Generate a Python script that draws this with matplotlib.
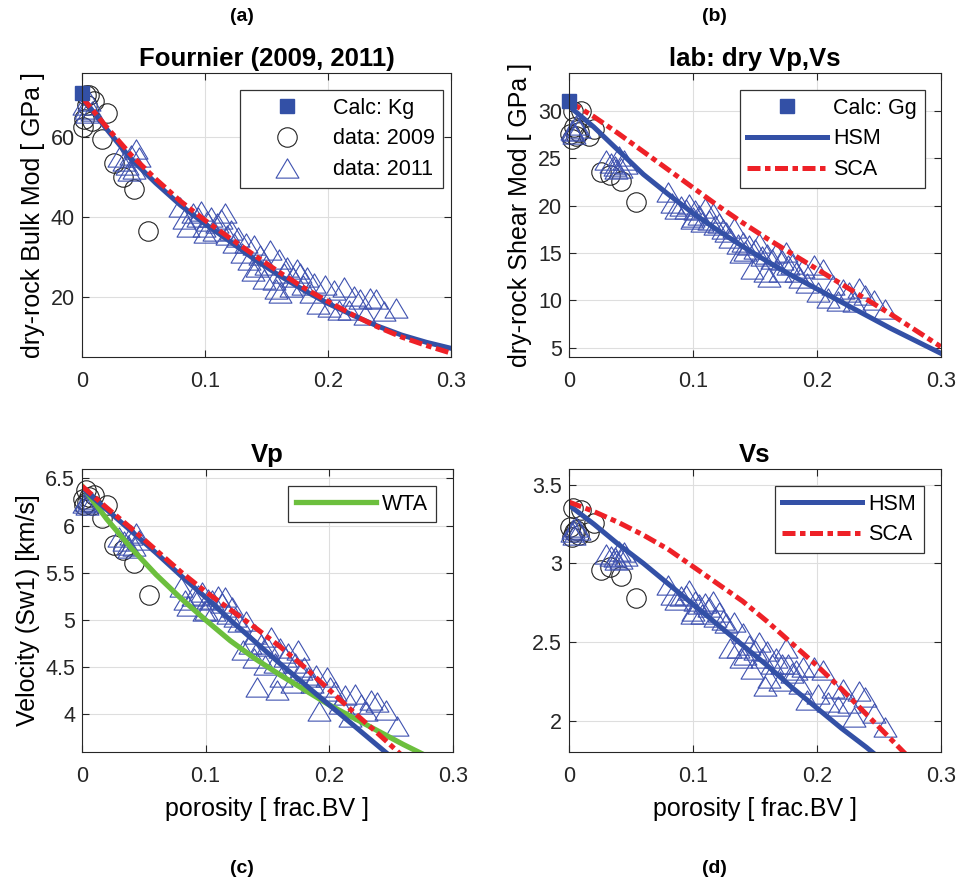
import numpy as np
import matplotlib.pyplot as plt
from matplotlib.path import Path

plt.rcParams['font.family'] = ['Liberation Sans', 'DejaVu Sans']

# ---- data: 2009 (circles) ----
phi_2009 = [0.001, 0.002, 0.003, 0.004, 0.006, 0.008, 0.010, 0.016, 0.020, 0.026, 0.033, 0.042, 0.054]
K_2009 = [62.5, 64.5, 70.5, 68.0, 70.5, 64.0, 69.0, 59.5, 66.0, 53.5, 50.0, 47.0, 36.5]
G_2009 = [27.6, 27.0, 30.0, 28.3, 27.4, 27.8, 30.0, 27.4, 28.1, 23.5, 23.2, 22.6, 20.4]
Vp_2009 = [6.28, 6.22, 6.38, 6.25, 6.30, 6.22, 6.33, 6.08, 6.22, 5.80, 5.74, 5.60, 5.27]
Vs_2009 = [3.23, 3.17, 3.35, 3.20, 3.21, 3.18, 3.34, 3.20, 3.26, 2.96, 2.98, 2.92, 2.78]

# ---- data: 2011 (triangles) ----
phi_2011 = [0.002, 0.004, 0.006, 0.003, 0.008,
            0.030, 0.034, 0.037, 0.040, 0.042, 0.044, 0.046, 0.038,
            0.080, 0.083, 0.086, 0.090, 0.094, 0.097, 0.100, 0.102, 0.105, 0.107,
            0.110, 0.113, 0.116, 0.118, 0.121, 0.124, 0.127, 0.099,
            0.130, 0.133, 0.136, 0.139, 0.142, 0.145, 0.148, 0.150, 0.153, 0.156,
            0.158, 0.161, 0.164, 0.167, 0.170, 0.172, 0.175, 0.177, 0.180, 0.183,
            0.186, 0.189, 0.140, 0.160,
            0.192, 0.198, 0.201, 0.205, 0.209, 0.213, 0.217, 0.221, 0.226, 0.230,
            0.234, 0.239, 0.246, 0.255]
K_2011 = [68.0, 66.0, 69.0, 67.0, 66.5,
          55.0, 54.0, 53.0, 55.5, 52.0, 57.0, 55.0, 51.5,
          42.5, 39.5, 37.5, 41.0, 40.0, 41.5, 36.0, 39.0, 40.0, 36.5,
          38.5, 39.5, 41.0, 35.5, 36.7, 33.5, 35.0, 37.5,
          31.0, 33.5, 29.2, 26.5, 27.4, 30.5, 24.5, 28.0, 31.7, 24.3,
          22.0, 20.9, 25.9, 27.6, 22.6, 25.0, 27.0, 25.9, 23.0, 25.1,
          20.9, 23.5, 33.0, 29.5,
          18.3, 23.0, 17.5, 21.8, 16.7, 22.5, 16.7, 20.3, 19.4, 15.5,
          19.8, 19.4, 16.5, 17.2]
G_2011 = [28.0, 27.6, 28.5, 27.9, 28.2,
          24.8, 24.5, 24.2, 25.2, 24.0, 24.8, 24.4, 23.9,
          21.4, 20.3, 19.6, 20.0, 19.6, 20.2, 18.8, 19.5, 19.0, 18.3,
          19.8, 18.5, 19.2, 18.0, 18.2, 17.5, 17.2, 18.6,
          16.6, 17.6, 15.9, 15.0, 15.2, 15.8, 13.3, 15.4, 16.0, 14.7,
          13.0, 12.5, 14.4, 15.0, 13.0, 14.3, 15.1, 13.7, 13.8, 13.0,
          12.3, 13.4, 16.2, 14.9,
          11.8, 13.7, 10.9, 13.3, 10.2, 11.6, 9.9, 11.2, 10.9, 9.8,
          11.3, 10.6, 10.0, 9.1]
Vp_2011 = [6.24, 6.22, 6.28, 6.26, 6.25,
           5.88, 5.84, 5.80, 5.90, 5.78, 5.92, 5.85, 5.76,
           5.35, 5.21, 5.15, 5.25, 5.26, 5.30, 5.11, 5.22, 5.21, 5.09,
           5.25, 5.18, 5.24, 5.06, 5.14, 5.03, 4.98, 5.10,
           4.68, 4.99, 4.75, 4.60, 4.29, 4.75, 4.52, 4.72, 4.82, 4.54,
           4.26, 4.40, 4.61, 4.65, 4.33, 4.54, 4.68, 4.47, 4.50, 4.40,
           4.33, 4.42, 4.85, 4.70,
           4.04, 4.40, 4.29, 4.25, 4.11, 4.20, 3.97, 4.22, 4.11, 4.04,
           4.15, 4.13, 4.05, 3.88]
Vs_2011 = [3.20, 3.18, 3.23, 3.22, 3.21,
           3.06, 3.05, 3.04, 3.08, 3.03, 3.07, 3.05, 3.02,
           2.86, 2.80, 2.77, 2.79, 2.80, 2.83, 2.70, 2.76, 2.74, 2.68,
           2.75, 2.72, 2.76, 2.66, 2.69, 2.64, 2.62, 2.68,
           2.46, 2.63, 2.46, 2.40, 2.42, 2.48, 2.33, 2.45, 2.50, 2.40,
           2.22, 2.27, 2.36, 2.40, 2.25, 2.36, 2.46, 2.36, 2.30, 2.32,
           2.23, 2.34, 2.56, 2.44,
           2.13, 2.34, 2.17, 2.32, 2.12, 2.21, 2.09, 2.20, 2.11, 2.02,
           2.19, 2.15, 2.05, 1.96]

# ---- mineral (calc) points ----
K_calc = 71.0
G_calc = 31.0

# ---- model curves ----
phi_mod = [0.0, 0.02, 0.04, 0.06, 0.08, 0.10, 0.12, 0.14, 0.16, 0.18, 0.20, 0.22, 0.24, 0.26, 0.28, 0.30]
K_hsm = [70.0, 62.0, 54.5, 48.5, 43.0, 38.3, 34.0, 29.5, 25.5, 21.8, 18.4, 15.5, 12.8, 10.5, 8.7, 7.2]
K_sca = [70.0, 62.5, 55.5, 49.5, 44.0, 39.2, 34.8, 30.5, 26.3, 22.4, 18.9, 15.6, 12.6, 10.0, 7.9, 6.0]
G_hsm = [30.5, 28.3, 25.8, 23.3, 21.2, 19.2, 17.4, 15.7, 14.1, 12.6, 11.2, 9.8, 8.4, 7.0, 5.7, 4.4]
G_sca = [31.0, 29.4, 27.6, 25.7, 23.8, 21.9, 20.0, 18.2, 16.5, 14.9, 13.3, 11.7, 10.1, 8.5, 6.8, 5.1]

phi_vel = [0.0, 0.02, 0.04, 0.06, 0.08, 0.10, 0.12, 0.14, 0.16, 0.18, 0.20, 0.22, 0.24, 0.26, 0.28]
Vp_hsm = [6.40, 6.17, 5.94, 5.71, 5.47, 5.24, 5.00, 4.77, 4.54, 4.32, 4.10, 3.88, 3.66, 3.44, 3.22]
Vp_sca = [6.42, 6.19, 5.97, 5.74, 5.51, 5.30, 5.11, 4.92, 4.72, 4.50, 4.26, 4.02, 3.79, 3.55, 3.30]
Vp_wta = [6.42, 6.07, 5.76, 5.48, 5.23, 5.00, 4.78, 4.59, 4.42, 4.26, 4.10, 3.96, 3.82, 3.68, 3.55]
Vs_hsm = [3.37, 3.25, 3.12, 3.00, 2.87, 2.74, 2.61, 2.48, 2.35, 2.21, 2.08, 1.95, 1.83, 1.70, 1.57]
Vs_sca = [3.39, 3.33, 3.26, 3.18, 3.09, 2.98, 2.87, 2.76, 2.63, 2.49, 2.35, 2.20, 2.04, 1.88, 1.72]

BLUE = '#3350a6'
TRI = '#3f52b0'
RED = '#ee2127'
GREEN = '#6cbf3d'
SCA_DASH = (2.6, 0.9, 1.1, 0.9)

tri_marker = Path([(-1, -0.84), (1, -0.84), (0, 0.84), (-1, -0.84)],
                  [Path.MOVETO, Path.LINETO, Path.LINETO, Path.CLOSEPOLY])


def style_axes(ax, ylim, yticks, yticklabels=None):
    ax.set_xlim(0, 0.3)
    ax.set_ylim(*ylim)
    ax.set_xticks([0, 0.1, 0.2, 0.3])
    ax.set_xticklabels(['0', '0.1', '0.2', '0.3'])
    ax.set_yticks(yticks)
    if yticklabels is not None:
        ax.set_yticklabels(yticklabels)
    ax.grid(True, color='#dedede', lw=0.8)
    ax.set_axisbelow(True)
    ax.tick_params(direction='in', length=5, width=0.8, top=True, right=True,
                   labelsize=15.5, colors='#262626', pad=5)
    ax.tick_params(axis='x', pad=10)
    for s in ax.spines.values():
        s.set_color('#262626')
        s.set_linewidth(0.8)


def draw_data(ax, y09, y11):
    ax.plot(phi_2009, y09, 'o', ms=14, mfc='none', mec='#222222', mew=0.8,
            clip_on=False, label='data: 2009')
    ax.plot(phi_2011, y11, ls='none', marker=tri_marker, ms=16.5, mfc='none',
            mec=TRI, mew=0.8, clip_on=False, label='data: 2011')


def add_legend(ax, handles, labels, right):
    leg = ax.legend(handles, labels, loc='upper right', bbox_to_anchor=(right, 0.94),
                    borderaxespad=0, fontsize=15.5, handlelength=3.7, handletextpad=0.3,
                    labelspacing=0.45, borderpad=0.35, fancybox=False, framealpha=1,
                    edgecolor='#333333', numpoints=1)
    leg.get_frame().set_linewidth(0.9)


fig = plt.figure(figsize=(9.58, 8.86), dpi=100)
ax_a = fig.add_axes([0.0856, 0.597, 0.385, 0.3205])
ax_b = fig.add_axes([0.594, 0.597, 0.388, 0.3205])
ax_c = fig.add_axes([0.0856, 0.1512, 0.387, 0.3194])
ax_d = fig.add_axes([0.594, 0.1512, 0.388, 0.3194])

# (a) bulk modulus
draw_data(ax_a, K_2009, K_2011)
ax_a.plot(phi_mod, K_hsm, color=BLUE, lw=3.6)
ax_a.plot(phi_mod, K_sca, color=RED, lw=3.6, dashes=SCA_DASH)
sq_a, = ax_a.plot([0], [K_calc], 's', ms=9.5, color=BLUE, clip_on=False)
style_axes(ax_a, (5, 76), [20, 40, 60])
ax_a.set_ylabel('dry-rock Bulk Mod [ GPa ]', fontsize=18, labelpad=4)
ax_a.set_title('Fournier (2009, 2011)', fontsize=18.5, fontweight='bold', pad=5)
hl = ax_a.get_lines()
add_legend(ax_a, [sq_a, hl[0], hl[1]], ['Calc: Kg', 'data: 2009', 'data: 2011'], 0.978)

# (b) shear modulus
draw_data(ax_b, G_2009, G_2011)
hb1, = ax_b.plot(phi_mod, G_hsm, color=BLUE, lw=3.6)
hb2, = ax_b.plot(phi_mod, G_sca, color=RED, lw=3.6, dashes=SCA_DASH)
sq_b, = ax_b.plot([0], [G_calc], 's', ms=9.5, color=BLUE, clip_on=False)
style_axes(ax_b, (4, 34), [5, 10, 15, 20, 25, 30])
ax_b.set_ylabel('dry-rock Shear Mod [ GPa ]', fontsize=18, labelpad=4)
ax_b.set_title('lab: dry Vp,Vs', fontsize=18.5, fontweight='bold', pad=5)
add_legend(ax_b, [sq_b, hb1, hb2], ['Calc: Gg', 'HSM', 'SCA'], 0.957)

# (c) Vp
draw_data(ax_c, Vp_2009, Vp_2011)
hc3, = ax_c.plot(phi_vel, Vp_wta, color=GREEN, lw=3.8)
ax_c.plot(phi_vel, Vp_hsm, color=BLUE, lw=3.6)
ax_c.plot(phi_vel, Vp_sca, color=RED, lw=3.6, dashes=SCA_DASH)
style_axes(ax_c, (3.6, 6.6), [4, 4.5, 5, 5.5, 6, 6.5], ['4', '4.5', '5', '5.5', '6', '6.5'])
ax_c.set_ylabel('Velocity (Sw1) [km/s]', fontsize=18, labelpad=4)
ax_c.set_xlabel('porosity [ frac.BV ]', fontsize=18, labelpad=7)
ax_c.set_title('Vp', fontsize=18.5, fontweight='bold', pad=5)
add_legend(ax_c, [hc3], ['WTA'], 0.954)

# (d) Vs
draw_data(ax_d, Vs_2009, Vs_2011)
hd1, = ax_d.plot(phi_vel, Vs_hsm, color=BLUE, lw=3.6)
hd2, = ax_d.plot(phi_vel, Vs_sca, color=RED, lw=3.6, dashes=SCA_DASH)
style_axes(ax_d, (1.8, 3.6), [2, 2.5, 3, 3.5], ['2', '2.5', '3', '3.5'])
ax_d.set_xlabel('porosity [ frac.BV ]', fontsize=18, labelpad=7)
ax_d.set_title('Vs', fontsize=18.5, fontweight='bold', pad=5)
add_legend(ax_d, [hd1, hd2], ['HSM', 'SCA'], 0.954)

for lbl, x, y in [('(a)', 0.2526, 0.981), ('(b)', 0.7453, 0.981),
                  ('(c)', 0.2526, 0.020), ('(d)', 0.7453, 0.020)]:
    fig.text(x, y, lbl, ha='center', va='center', fontsize=14, fontweight='bold')

fig.savefig('out.png', dpi=100, facecolor='white')
